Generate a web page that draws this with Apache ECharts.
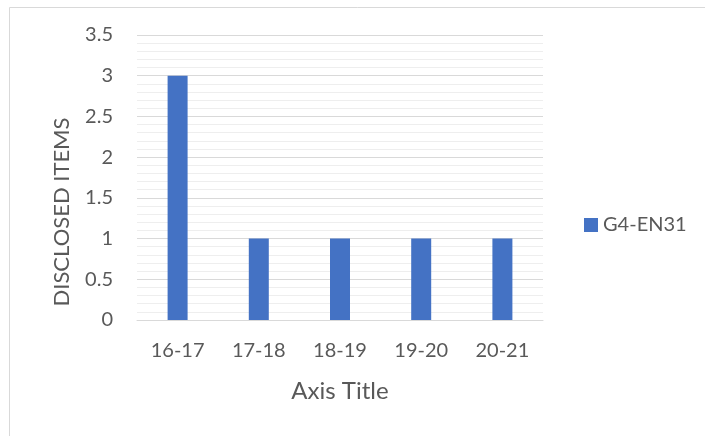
<!DOCTYPE html>
<html>
<head>
<meta charset="utf-8">
<script src="https://cdn.jsdelivr.net/npm/echarts@6/dist/echarts.min.js"></script>
<style>
html,body{margin:0;padding:0;background:#fff;}
#main{width:705px;height:436px;}
</style>
</head>
<body>
<div id="main"></div>
<script>
const categories = ['16-17', '17-18', '18-19', '19-20', '20-21'];
const seriesName = 'G4-EN31';
const values = [3, 1, 1, 1, 1];
const yTitle = 'DISCLOSED ITEMS';
const xTitle = 'Axis Title';

const font = 'Lato, "Open Sans", sans-serif';
const textColor = '#595959';
const chart = echarts.init(document.getElementById('main'));
chart.setOption({
  animation: false,
  backgroundColor: '#fff',
  graphic: [{
    type: 'rect',
    shape: {x: 9.5, y: 7.5, width: 800, height: 600},
    style: {fill: 'none', stroke: '#d9d9d9', lineWidth: 1},
    silent: true,
    z: -1
  }, {
    type: 'text',
    x: 62,
    y: 212,
    rotation: Math.PI / 2,
    style: {
      text: yTitle,
      fill: textColor,
      font: '22px ' + font,
      align: 'center',
      verticalAlign: 'middle'
    },
    silent: true
  }],
  grid: {left: 137, top: 35, width: 406, height: 285, containLabel: false},
  legend: {
    data: [seriesName],
    left: 579,
    top: 210,
    padding: 5,
    itemWidth: 14,
    itemHeight: 14,
    itemGap: 8,
    icon: 'rect',
    textStyle: {color: textColor, fontSize: 20, fontFamily: font}
  },
  xAxis: {
    type: 'category',
    data: categories,
    name: xTitle,
    nameLocation: 'middle',
    nameGap: 59,
    nameTextStyle: {color: textColor, fontSize: 24, fontFamily: font},
    axisLine: {show: true, lineStyle: {color: '#d9d9d9', width: 1}},
    axisTick: {show: false},
    axisLabel: {color: textColor, fontSize: 20, fontFamily: font, margin: 21}
  },
  yAxis: {
    type: 'value',
    min: 0,
    max: 3.5,
    interval: 0.5,
    axisLine: {show: false},
    axisTick: {show: false},
    axisLabel: {color: textColor, fontSize: 20, fontFamily: font, margin: 24},
    splitLine: {show: true, lineStyle: {color: '#d9d9d9', width: 1}},
    minorTick: {show: false, splitNumber: 5},
    minorSplitLine: {show: true, lineStyle: {color: '#eeeeee', width: 1}}
  },
  series: [{
    name: seriesName,
    type: 'bar',
    data: values,
    barWidth: 20,
    itemStyle: {color: '#4472c4'}
  }]
});
</script>
</body>
</html>
